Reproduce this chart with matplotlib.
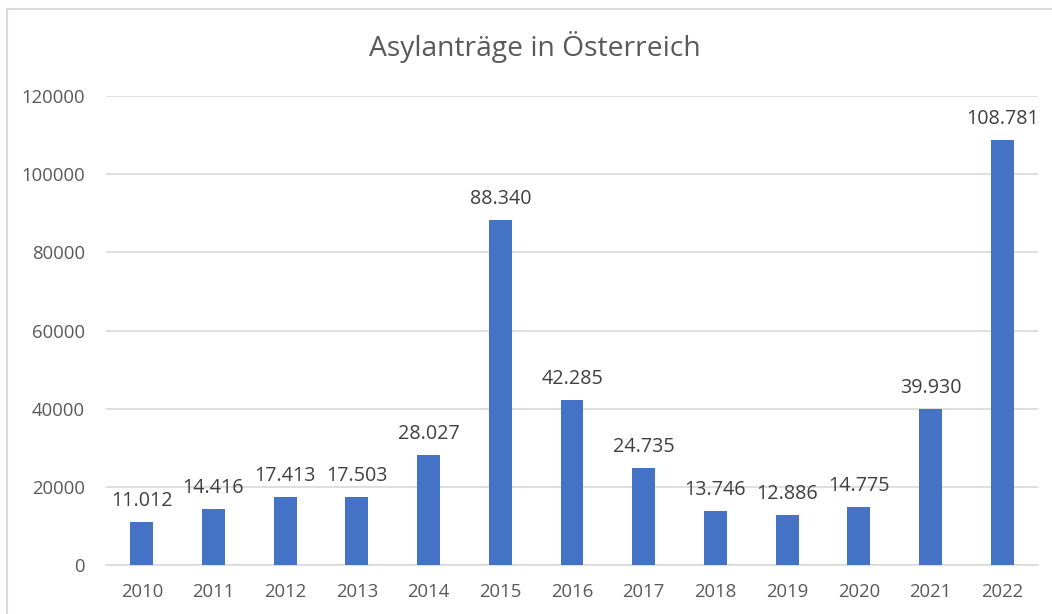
import matplotlib
matplotlib.use("Agg")
import matplotlib.pyplot as plt
from matplotlib.lines import Line2D

years = ["2010", "2011", "2012", "2013", "2014", "2015", "2016", "2017",
         "2018", "2019", "2020", "2021", "2022"]
values = [11012, 14416, 17413, 17503, 28027, 88340, 42285, 24735,
          13746, 12886, 14775, 39930, 108781]
labels = ["11.012", "14.416", "17.413", "17.503", "28.027", "88.340", "42.285",
          "24.735", "13.746", "12.886", "14.775", "39.930", "108.781"]
yticks = [0, 20000, 40000, 60000, 80000, 100000, 120000]
title = "Asylanträge in Österreich"

W, H = 1052, 614
plt.rcParams['font.family'] = ['Open Sans', 'DejaVu Sans']
fig = plt.figure(figsize=(W / 100, H / 100), dpi=100)
ax = fig.add_axes([106 / W, 1 - 565 / H, (1038 - 106) / W, (565 - 96) / H])

x = list(range(len(years)))
bars = ax.bar(x, values, width=0.32, color="#4472C4", zorder=3)
ax.set_xlim(-0.5, len(years) - 0.5)
ax.set_ylim(0, 120000)
ax.set_yticks(yticks)
ax.set_yticklabels([str(v) for v in yticks])
ax.set_xticks(x)
ax.set_xticklabels(years)
ax.tick_params(axis='both', length=0, labelsize=13.3, colors="#595959")
ax.tick_params(axis='y', pad=15)
ax.tick_params(axis='x', pad=13)
ax.grid(axis='y', color="#D9D9D9", linewidth=1.2, zorder=0)
for s in ["top", "right", "left"]:
    ax.spines[s].set_visible(False)
ax.spines["bottom"].set_color("#D9D9D9")
ax.spines["bottom"].set_linewidth(1.2)

for xi, v, lab in zip(x, values, labels):
    ax.annotate(lab, (xi, v), xytext=(0, 16), textcoords="offset pixels",
                ha="center", va="baseline", fontsize=14.2, color="#404040")

fig.text(535 / W, 1 - 47 / H, title, ha="center", va="center",
         fontsize=20.3, color="#595959")

# chart frame
fig.add_artist(Line2D([6.5 / W, 1], [1 - 8.5 / H, 1 - 8.5 / H],
                      transform=fig.transFigure, color="#D9D9D9", linewidth=1.5))
fig.add_artist(Line2D([6.5 / W, 6.5 / W], [0, 1 - 8.5 / H],
                      transform=fig.transFigure, color="#D9D9D9", linewidth=1.5))

fig.savefig("out.png", dpi=100, facecolor="white")
